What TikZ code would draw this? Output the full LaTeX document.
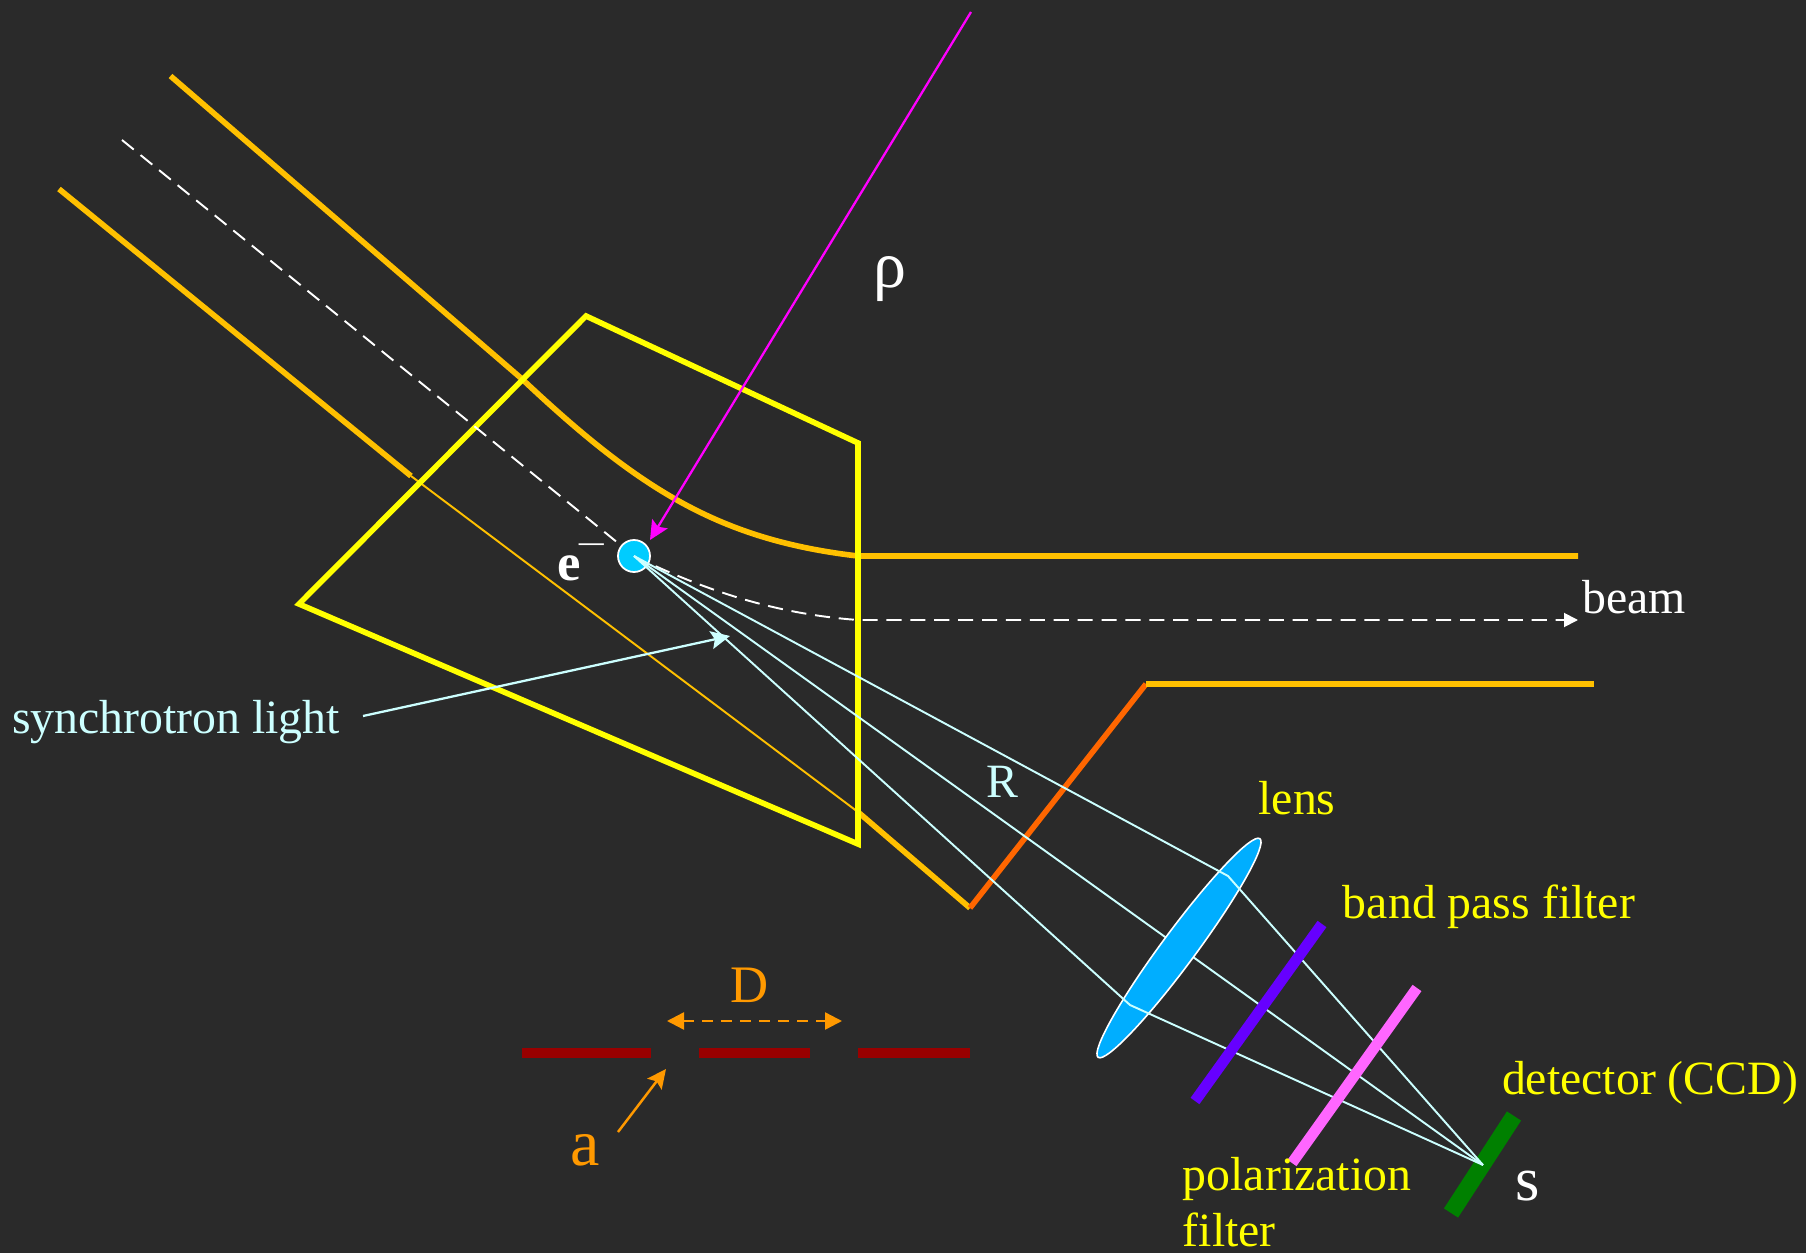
\documentclass[tikz,border=0pt]{standalone}
\usepackage{fontspec}
\setmainfont{Liberation Serif}
\usetikzlibrary{positioning, arrows.meta, shapes.geometric}
\definecolor{bgdark}{HTML}{2A2A2A}
\definecolor{pipeorange}{HTML}{FFC000}
\definecolor{flangeorange}{HTML}{FF6600}
\definecolor{magnetyellow}{HTML}{FFFF00}
\definecolor{raycyan}{HTML}{CCFFFF}
\definecolor{lensblue}{HTML}{00AEFF}
\definecolor{elecblue}{HTML}{00CCFF}
\definecolor{rhomagenta}{HTML}{FF00FF}
\definecolor{bandviolet}{HTML}{6600FF}
\definecolor{polarpink}{HTML}{FF66FF}
\definecolor{ccdgreen}{HTML}{008000}
\definecolor{maskred}{HTML}{990000}
\definecolor{maskorange}{HTML}{FF9900}

\begin{document}
\begin{tikzpicture}[
    pipe/.style={line width=1.6pt, pipeorange},
    magnet/.style={line width=1.6pt, magnetyellow, line join=miter},
    orbit/.style={line width=0.55pt, white, dash pattern=on 4.3pt off 2.5pt},
    ray/.style={line width=0.55pt, raycyan},
    arr/.style={-{Stealth[length=1.9mm, width=1.8mm, inset=0.35mm]}},
    tri/.style={-{Triangle[length=1.4mm, width=1.4mm]}},
    label/.style={inner sep=0pt, font=\fontsize{13.6}{15.8}\selectfont, text=magnetyellow, align=left},
    big/.style={inner sep=0pt, font=\fontsize{18.8}{20}\selectfont},
    plate/.style={line width=#1},
]
\fill[bgdark] (0, 0) rectangle (18.06, -12.53);
\useasboundingbox (0, 0) rectangle (18.06, -12.53);

\coordinate (apex) at (6.34, -5.56);
\coordinate (focus) at (14.83, -11.65);

% Beam pipe
\draw[pipe] (1.705, -0.76) -- (5.22, -3.79)
  .. controls (6.40, -4.90) and (7.20, -5.40) .. (8.58, -5.56) -- (15.78, -5.56);
\draw[pipe] (0.59, -1.89) -- (4.11, -4.76);
\draw[line width=0.55pt, pipeorange] (4.11, -4.76) -- (8.58, -8.12);
\draw[pipe] (8.58, -8.12) -- (9.70, -9.08);
\draw[line width=1.6pt, flangeorange, line join=bevel] (9.70, -9.08) -- (11.46, -6.84);
\draw[pipe] (11.46, -6.84) -- (15.94, -6.84);

% Magnet
\draw[magnet] (5.86, -3.16) -- (8.58, -4.43) -- (8.58, -8.44) -- (2.99, -6.04) -- cycle;

% Orbit of the electron
\coordinate (orbitin) at (1.22, -1.40);
\coordinate (orbitout) at (15.78, -6.20);
\draw[orbit] (orbitin) -- (apex);
\draw[orbit, tri] (apex) .. controls (7.20, -5.98) and (7.90, -6.15) .. (8.58, -6.20) -- (orbitout);

% Electron
\node[circle, draw=white, line width=0.5pt, fill=elecblue, minimum size=0.32cm, inner sep=0pt] (elec) at (apex) {};
\node[inner sep=0pt, anchor=base west, text=white, font=\fontsize{15}{16}\selectfont\bfseries] (elabel) at (5.57, -5.80)
  {e\hspace{-0.6pt}\raisebox{8.4pt}{\fontsize{7.1}{8}\selectfont—}};

% Bending radius
\node[big, text=white] (rho) at (8.90, -2.79) {ρ};
\coordinate (rhostart) at (9.71, -0.12);
\coordinate (rhotip) at (6.50, -5.40);
\draw[line width=0.65pt, rhomagenta, arr] (rhostart) -- (rhotip);

% Detector
\draw[line width=4.8pt, ccdgreen] (15.14, -11.16) -- (14.51, -12.13);

% Light rays
\draw[ray] (apex) -- (focus);
\node[ellipse, draw=white, line width=0.45pt, fill=lensblue, minimum width=2.72cm, minimum height=0.34cm, inner sep=0pt, rotate=53.5] (lens) at (11.79, -9.48) {};
\draw[ray] (apex) -- (12.28, -8.76) -- (focus);
\draw[ray] (apex) -- (11.30, -10.05) -- (focus);

% Filters
\draw[line width=3.1pt, bandviolet] (13.22, -9.24) -- (11.95, -11.01);
\draw[line width=3.1pt, polarpink] (14.17, -9.88) -- (12.92, -11.63);

% Synchrotron light pointer
\node[label, text=raycyan] (synch) at (1.76, -7.22) {synchrotron light};
\coordinate (synchstart) at (3.63, -7.16);
\coordinate (synchtip) at (7.30, -6.36);
\draw[line width=0.65pt, raycyan, arr] (synchstart) -- (synchtip);

% Mask
\draw[plate=3pt, maskred] (5.22, -10.53) -- (6.51, -10.53);
\draw[plate=3pt, maskred] (6.99, -10.53) -- (8.10, -10.53);
\draw[plate=3pt, maskred] (8.58, -10.53) -- (9.70, -10.53);
\coordinate (dleft) at (6.67, -10.21);
\coordinate (dright) at (8.42, -10.21);
\draw[line width=0.7pt, maskorange, dash pattern=on 3.1pt off 2.3pt, {Triangle[length=1.7mm, width=1.7mm]}-{Triangle[length=1.7mm, width=1.7mm]}] (dleft) -- (dright);
\node[inner sep=0pt, text=maskorange, font=\fontsize{15}{16}\selectfont] (dlabel) at (7.50, -9.85) {D};
\node[big, text=maskorange] (alabel) at (5.85, -11.50) {a};
\coordinate (astart) at (6.18, -11.32);
\coordinate (atip) at (6.66, -10.69);
\draw[line width=0.7pt, maskorange, arr] (astart) -- (atip);

% Labels
\node[label, text=white] (beam) at (16.34, -5.97) {beam};
\node[label, text=raycyan] (rlabel) at (10.02, -7.82) {R};
\node[label] (lenslabel) at (12.97, -7.98) {lens};
\node[label] (bandlabel) at (14.89, -9.07) {band pass filter};
\node[label] (ccdlabel) at (16.50, -10.83) {detector (CCD)};
\node[label] (polarlabel) at (12.97, -12.02) {polarization\\filter};
\node[big, text=white, font=\fontsize{17.8}{20}\selectfont] (slabel) at (15.28, -11.86) {s};
\end{tikzpicture}
\end{document}
